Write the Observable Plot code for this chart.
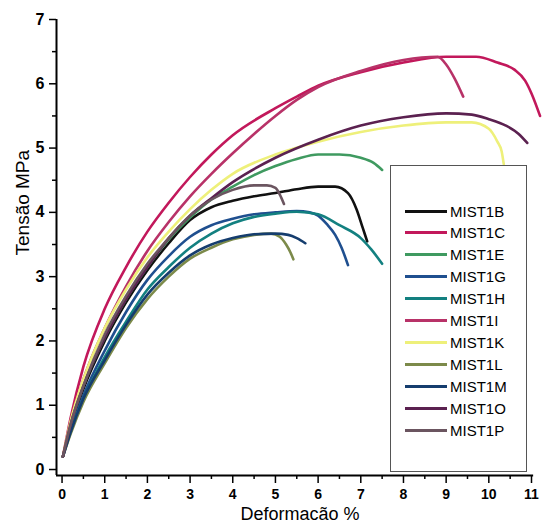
<!DOCTYPE html>
<html><head><meta charset="utf-8">
<script src="https://cdn.jsdelivr.net/npm/d3@7"></script>
<script src="https://cdn.jsdelivr.net/npm/@observablehq/plot@0.6"></script>
<style>
body{margin:0;background:#fff;font-family:"Liberation Sans",Arial,sans-serif;}
#wrap{position:relative;width:543px;height:528px;}
#legend{position:absolute;left:390px;top:165px;width:137px;height:307px;border:1.5px solid #555;box-sizing:border-box;background:#fff;}
.item{position:absolute;left:14px;height:20px;display:flex;align-items:center;font-size:15px;color:#000;}
.item span.sw{display:inline-block;width:42px;height:3px;margin-right:3px;}
svg text.tick{font-weight:bold;}
</style></head><body><div id="wrap"></div>
<script>
// series names and colours
const seriesNames = ["MIST1B","MIST1C","MIST1E","MIST1G","MIST1H","MIST1I","MIST1K","MIST1L","MIST1M","MIST1O","MIST1P"];
const seriesColors = ["#111111","#c2185b","#3f9a60","#1f4f8f","#138080","#b83268","#eef07a","#7c8a4a","#153d6e","#5b2150","#6b5560"];

// strain (%) and stress (MPa)
const xB = [0.02,0.2,0.5,1,1.5,2,2.5,3,3.5,4,4.5,5,5.5,6,6.4,6.7,6.9,7.05,7.15];
const yB = [0.2,0.65,1.25,2.0,2.6,3.1,3.52,3.88,4.08,4.18,4.25,4.3,4.36,4.4,4.4,4.3,4.05,3.75,3.55];

const xC = [0.02,0.2,0.5,1,1.5,2,2.5,3,3.5,4,5,5.5,6,7,8,9,9.7,10.2,10.6,10.85,11.0,11.2];
const yC = [0.2,0.8,1.6,2.5,3.15,3.7,4.15,4.55,4.9,5.2,5.62,5.8,5.97,6.18,6.33,6.42,6.42,6.33,6.22,6.05,5.85,5.5];

const xE = [0.02,0.2,0.5,1,1.5,2,2.5,3,3.5,4,4.5,5,5.5,6,6.5,7,7.3,7.5];
const yE = [0.2,0.7,1.3,2.05,2.65,3.15,3.58,3.92,4.2,4.4,4.58,4.72,4.83,4.9,4.9,4.85,4.77,4.66];

const xG = [0.02,0.2,0.5,1,1.5,2,2.5,3,3.5,4,4.5,5,5.5,5.8,6.0,6.2,6.4,6.55,6.7];
const yG = [0.2,0.6,1.15,1.85,2.45,2.95,3.32,3.62,3.8,3.9,3.97,4.0,4.02,4.0,3.95,3.82,3.65,3.45,3.18];

const xH = [0.02,0.2,0.5,1,1.5,2,2.5,3,3.5,4,4.5,5,5.5,6,6.5,7,7.25,7.5];
const yH = [0.2,0.6,1.1,1.75,2.3,2.8,3.15,3.45,3.67,3.83,3.93,3.98,4.01,3.97,3.8,3.6,3.42,3.2];

const xI = [0.02,0.2,0.5,1,1.5,2,2.5,3,3.5,4,4.5,5,5.5,6,7,8,8.8,9.0,9.2,9.4];
const yI = [0.2,0.7,1.4,2.2,2.85,3.4,3.85,4.25,4.6,4.92,5.22,5.5,5.75,5.95,6.2,6.37,6.42,6.3,6.08,5.8];

const xK = [0.02,0.2,0.5,1,1.5,2,2.5,3,3.5,4,5,6,7,8,9,9.6,10,10.2,10.3,10.35];
const yK = [0.2,0.75,1.4,2.2,2.8,3.3,3.7,4.05,4.35,4.6,4.9,5.1,5.25,5.35,5.4,5.4,5.3,5.1,4.95,4.75];

const xL = [0.02,0.2,0.5,1,1.5,2,2.5,3,3.5,4,4.5,4.9,5.1,5.25,5.35,5.42];
const yL = [0.2,0.55,1.05,1.65,2.2,2.65,3.0,3.28,3.45,3.58,3.65,3.67,3.62,3.5,3.38,3.27];

const xM = [0.02,0.2,0.5,1,1.5,2,2.5,3,3.5,4,4.5,5,5.3,5.5,5.7];
const yM = [0.2,0.58,1.1,1.7,2.25,2.72,3.06,3.33,3.5,3.6,3.66,3.67,3.65,3.6,3.52];

const xO = [0.02,0.2,0.5,1,1.5,2,2.5,3,3.5,4,5,6,7,8,9,9.6,10,10.4,10.7,10.9];
const yO = [0.2,0.7,1.3,2.05,2.65,3.15,3.6,3.95,4.22,4.47,4.85,5.13,5.35,5.48,5.54,5.52,5.45,5.35,5.22,5.08];

const xP = [0.02,0.2,0.5,1,1.5,2,2.5,3,3.5,4,4.5,4.8,5.0,5.1,5.2];
const yP = [0.2,0.7,1.3,2.1,2.7,3.2,3.6,3.95,4.2,4.35,4.42,4.42,4.38,4.28,4.13];

const xTicks = [0,1,2,3,4,5,6,7,8,9,10,11];
const yTicks = [0,1,2,3,4,5,6,7];
const xLabel = "Deformacão %";
const yLabel = "Tensão MPa";

const xs = [xB,xC,xE,xG,xH,xI,xK,xL,xM,xO,xP];
const ys = [yB,yC,yE,yG,yH,yI,yK,yL,yM,yO,yP];
const rows = [];
seriesNames.forEach((s,i)=>xs[i].forEach((x,j)=>rows.push({series:s,x,y:ys[i][j]})));

const xMinor = xTicks.slice(0,-1).map(t=>t+0.5);
const yMinor = yTicks.slice(0,-1).map(t=>t+0.5);
const fmt = d3.format("d");

const chart = Plot.plot({
  width:543, height:528,
  marginLeft:56, marginRight:12, marginTop:19, marginBottom:53,
  x:{domain:[-0.13,11]},
  y:{domain:[-0.093,7]},
  color:{domain:seriesNames, range:seriesColors},
  style:{fontFamily:"Liberation Sans, Arial, sans-serif", color:"#000", background:"transparent"},
  marks:[
    Plot.ruleY([-0.093],{x1:-0.13,x2:11.05,stroke:"#000",strokeWidth:2}),
    Plot.ruleX([-0.13],{y1:-0.093,y2:7,stroke:"#000",strokeWidth:2}),
    Plot.axisX(xMinor,{tickSize:4,tickFormat:()=>"",strokeWidth:1.5,label:null}),
    Plot.axisX(xTicks,{tickSize:8,tickPadding:6,strokeWidth:1.5,fontSize:14,tickFormat:fmt,label:null,className:"tick"}),
    Plot.axisY(yMinor,{tickSize:4,tickFormat:()=>"",strokeWidth:1.5,label:null}),
    Plot.axisY(yTicks,{tickSize:7,tickPadding:5,strokeWidth:1.5,fontSize:16,tickFormat:fmt,label:null,className:"tick"}),
    Plot.line(rows,{x:"x",y:"y",z:"series",stroke:"series",curve:"monotone-x",strokeWidth:2.6,strokeLinejoin:"round",strokeLinecap:"round"}),
    Plot.text([xLabel],{frameAnchor:"bottom",dy:44,dx:6,fontSize:18,className:"title"}),
    Plot.text([yLabel],{frameAnchor:"left",rotate:-90,dx:-34,dy:8,fontSize:19,className:"title"})
  ]
});
d3.select(chart).selectAll("text").style("font-weight","bold");
d3.select(chart).selectAll(".title text, text.title").style("font-weight","normal");
const wrap = document.getElementById("wrap");
wrap.appendChild(chart);

const leg = document.createElement("div");
leg.id = "legend";
seriesNames.forEach((s,i)=>{
  const it = document.createElement("div");
  it.className = "item";
  it.style.top = (35 + i*21.9) + "px";
  const sw = document.createElement("span");
  sw.className = "sw";
  sw.style.background = seriesColors[i];
  it.appendChild(sw);
  it.appendChild(document.createTextNode(s));
  leg.appendChild(it);
});
wrap.appendChild(leg);
</script>
</body></html>
